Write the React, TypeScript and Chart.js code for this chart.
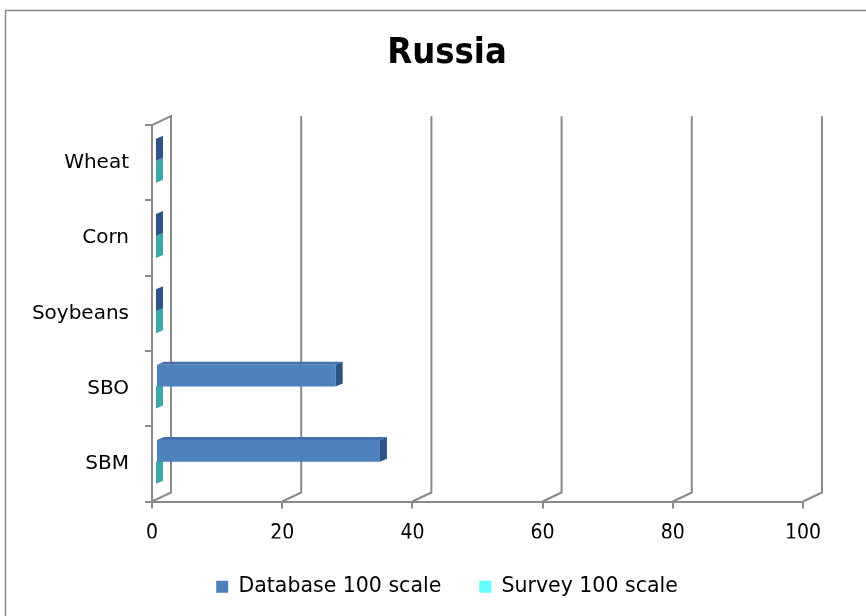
import { useEffect, useRef } from 'react';
import { Chart, registerables } from 'chart.js';

Chart.register(...registerables);

// ---- data ----
const categories = ['Wheat', 'Corn', 'Soybeans', 'SBO', 'SBM'];
const databaseValues = [0, 0, 0, 27.6, 34.4];
const surveyValues = [0, 0, 0, 0, 0];
const seriesNames = ['Database 100 scale', 'Survey 100 scale'];
const xMin = 0;
const xMax = 100;
const xStep = 20;
const titleText = 'Russia';

// ---- style ----
const GRID = '#8a8a8a';
const DEPTH_X = 19;
const DEPTH_Y = -9;
const BAR_SHIFT_X = 4;
const BAR_SHIFT_Y = -2;
const CAP_X = 7;
const CAP_Y = -3;
const faces = [
  { front: '#4F81BD', top: '#4471AC', side: '#2E5385' },
  { front: '#66FFFF', top: '#52DADA', side: '#3DA8A8' },
];

const threeD = {
  id: 'threeD',
  beforeDraw(chart: any) {
    const ctx = chart.ctx;
    ctx.save();
    ctx.strokeStyle = GRID;
    ctx.lineWidth = 1.5;
    ctx.strokeRect(5.5, 10.5, 900, 700);
    ctx.restore();
  },
  beforeDatasetsDraw(chart: any) {
    const { ctx, chartArea: a, scales } = chart;
    const x = scales.x;
    ctx.save();
    ctx.strokeStyle = GRID;
    ctx.lineWidth = 2;
    for (let v = xMin; v <= xMax; v += xStep) {
      const px = x.getPixelForValue(v);
      ctx.beginPath();
      ctx.moveTo(px, a.bottom);
      ctx.lineTo(px + DEPTH_X, a.bottom + DEPTH_Y);
      ctx.lineTo(px + DEPTH_X, a.top + DEPTH_Y);
      if (v === xMin) ctx.lineTo(px, a.top);
      ctx.stroke();
    }
    ctx.restore();
    ctx.save();
    ctx.translate(BAR_SHIFT_X, BAR_SHIFT_Y);
  },
  afterDatasetDraw(chart: any, args: any) {
    const ctx = chart.ctx;
    const f = faces[args.index];
    args.meta.data.forEach((bar: any) => {
      const { x, y, base, height } = bar.getProps(['x', 'y', 'base', 'height'], true);
      const top = y - height / 2;
      const bottom = y + height / 2;
      ctx.fillStyle = f.top;
      ctx.beginPath();
      ctx.moveTo(base, top);
      ctx.lineTo(x, top);
      ctx.lineTo(x + CAP_X, top + CAP_Y);
      ctx.lineTo(base + CAP_X, top + CAP_Y);
      ctx.closePath();
      ctx.fill();
      ctx.fillStyle = f.side;
      ctx.beginPath();
      ctx.moveTo(x, top);
      ctx.lineTo(x + CAP_X, top + CAP_Y);
      ctx.lineTo(x + CAP_X, bottom + CAP_Y);
      ctx.lineTo(x, bottom);
      ctx.closePath();
      ctx.fill();
    });
  },
  afterDatasetsDraw(chart: any) {
    chart.ctx.restore();
  },
};

export default function App() {
  const ref = useRef<HTMLCanvasElement>(null);

  useEffect(() => {
    if (!ref.current) return;
    const chart = new Chart(ref.current, {
      type: 'bar',
      data: {
        labels: categories,
        datasets: [
          {
            label: seriesNames[0],
            data: databaseValues,
            backgroundColor: faces[0].front,
            borderWidth: 0,
            categoryPercentage: 0.584,
            barPercentage: 1,
            clip: false as any,
          },
          {
            label: seriesNames[1],
            data: surveyValues,
            backgroundColor: faces[1].front,
            borderWidth: 0,
            categoryPercentage: 0.584,
            barPercentage: 1,
            clip: false as any,
          },
        ],
      },
      options: {
        indexAxis: 'y',
        responsive: false,
        animation: false,
        layout: { padding: { left: 28, right: 0, top: 0, bottom: 9 } },
        scales: {
          x: {
            type: 'linear',
            min: xMin,
            max: xMax,
            ticks: {
              stepSize: xStep,
              padding: 12,
              color: '#000',
              font: { family: 'DejaVu Sans Condensed', size: 21 },
            },
            grid: {
              drawOnChartArea: false,
              drawTicks: true,
              tickLength: 7,
              color: GRID,
              lineWidth: 2,
            },
            border: { display: true, color: GRID, width: 2 },
            afterFit: (s: any) => {
              s.height = 37;
            },
          },
          y: {
            type: 'category',
            offset: true,
            ticks: {
              padding: 16,
              color: '#000',
              font: { family: 'DejaVu Sans', size: 20 },
            },
            grid: {
              offset: true,
              drawOnChartArea: false,
              drawTicks: true,
              tickLength: 7,
              color: GRID,
              lineWidth: 2,
            },
            border: { display: true, color: GRID, width: 2 },
            afterFit: (s: any) => {
              s.width = 124;
            },
          },
          spacer: {
            type: 'linear',
            position: 'right',
            display: true,
            ticks: { display: false },
            grid: { display: false },
            border: { display: false },
            afterFit: (s: any) => {
              s.width = 63;
            },
          },
        },
        plugins: {
          title: {
            display: true,
            text: titleText,
            color: '#000',
            font: { family: 'DejaVu Sans Condensed', size: 36, weight: 'bold' },
            padding: { top: 32, bottom: 50 },
          },
          legend: {
            position: 'bottom',
            labels: {
              boxWidth: 12,
              boxHeight: 12,
              padding: 38,
              color: '#000',
              font: { family: 'DejaVu Sans', size: 20.5 },
            },
          },
          tooltip: { enabled: false },
        },
      },
      plugins: [threeD],
    });
    return () => chart.destroy();
  }, []);

  return (
    <div style={{ position: 'fixed', left: 0, top: 0, width: 866, height: 616, background: '#fff' }}>
      <canvas ref={ref} width={866} height={616} style={{ width: 866, height: 616, display: 'block' }} />
    </div>
  );
}
